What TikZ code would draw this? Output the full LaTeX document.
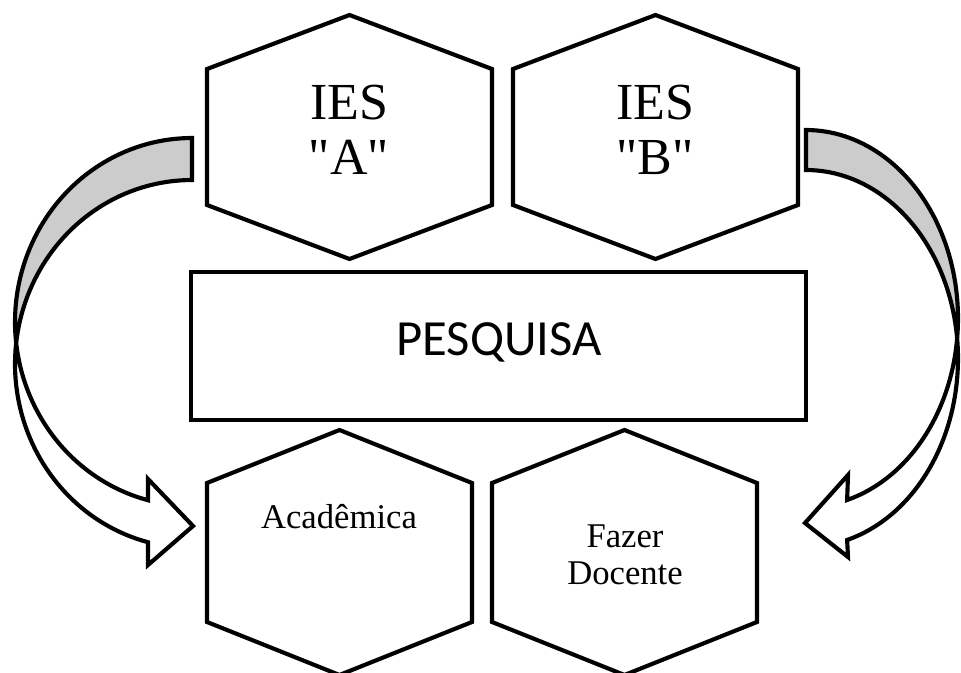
\documentclass[tikz,border=0pt]{standalone}
\usepackage{fontspec}
\setmainfont{Liberation Serif}[Ligatures=TeXOff]
\newfontfamily\boxfont{Carlito}
% hexagon with pointed top: left x, right x, top vertex y, upper corner y, lower corner y, bottom vertex y
\newcommand\hexoutline[6]{(#1,#4) -- ({(#1+#2)/2},#3) -- (#2,#4) -- (#2,#5) -- ({(#1+#2)/2},#6) -- (#1,#5) -- cycle}
\begin{document}
\begin{tikzpicture}[x=0.75pt,y=-0.75pt,
  outline/.style={draw=black,line width=3.1pt,line join=miter},
  hexbox/.style={outline,fill=white},
  backface/.style={fill=black!20},
  bigtext/.style={font=\fontsize{39}{41}\selectfont,align=center,inner sep=0pt},
  smalltext/.style={font=\fontsize{26}{28}\selectfont,align=center,inner sep=0pt},
  boxtext/.style={font=\boxfont\fontsize{38}{40}\selectfont,inner sep=0pt}]
\clip (0,0) rectangle (961,672);
\fill[white] (0,0) rectangle (961,672);

% institutions
\draw[hexbox] \hexoutline{207}{492}{15}{69}{205}{259};
\draw[hexbox] \hexoutline{513}{798}{15}{69}{205}{259};
\node[bigtext] (iesA) at (349,130) {IES\\"A"};
\node[bigtext] (iesB) at (655,130) {IES\\"B"};

% central research box
\draw[outline] (191,272) rectangle (806,420);
\node[boxtext,anchor=base] (pesquisa) at (499,355) {PESQUISA};

% outcomes
\draw[hexbox] \hexoutline{207}{472}{430}{483}{622}{675};
\draw[hexbox] \hexoutline{492}{757}{430}{483}{622}{675};
\node[smalltext,anchor=base] (academica) at (339,528) {Acadêmica};
\node[smalltext] (fazer) at (625,555) {Fazer\\Docente};

% left curved block arrow: shaded back face
\fill[backface] (192,138)
  -- plot[domain=270:180,samples=40] ({192+177*cos(\x)},{322+184*sin(\x)})
  -- plot[domain=180:270,samples=40] ({192+177*cos(\x)},{364+184*sin(\x)})
  -- cycle;
% left arrow: front face
\fill[white] plot[domain=180:104.4,samples=40] ({192+177*cos(\x)},{322+184*sin(\x)})
  -- (148,479) -- (193,526) -- (148,565)
  -- plot[domain=104.4:180,samples=40] ({192+177*cos(\x)},{364+184*sin(\x)})
  -- cycle;
% left arrow: outline
\draw[outline] plot[domain=270:104.4,samples=90] ({192+177*cos(\x)},{322+184*sin(\x)})
  -- (148,479) -- (193,526) -- (148,565)
  -- plot[domain=104.4:270,samples=90] ({192+177*cos(\x)},{364+184*sin(\x)})
  -- cycle;

% right curved block arrow: shaded back face
\fill[backface] plot[domain=270:360,samples=40] ({806+152*cos(\x)},{318.5+188.5*sin(\x)})
  -- plot[domain=360:270,samples=40] ({806+152*cos(\x)},{358.5+188.5*sin(\x)})
  -- cycle;
% right arrow: front face
\fill[white] plot[domain=360:434.3,samples=40] ({806+152*cos(\x)},{318.5+188.5*sin(\x)})
  -- (848,475) -- (805,523) -- (848,557)
  -- plot[domain=434.3:360,samples=40] ({806+152*cos(\x)},{358.5+188.5*sin(\x)})
  -- cycle;
% right arrow: outline
\draw[outline] plot[domain=270:434.3,samples=90] ({806+152*cos(\x)},{318.5+188.5*sin(\x)})
  -- (848,475) -- (805,523) -- (848,557)
  -- plot[domain=434.3:270,samples=90] ({806+152*cos(\x)},{358.5+188.5*sin(\x)})
  -- cycle;
\end{tikzpicture}
\end{document}
